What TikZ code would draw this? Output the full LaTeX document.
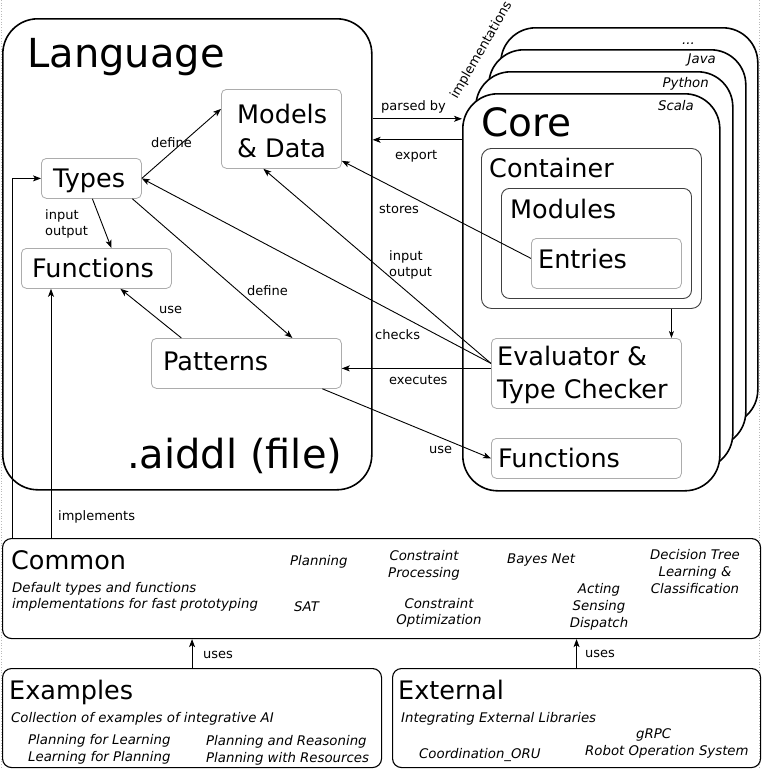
\documentclass[tikz,border=0pt]{standalone}
\usepackage{fontspec}
\setmainfont{DejaVu Sans}
\usetikzlibrary{arrows.meta,calc}
\begin{document}
\begin{tikzpicture}[x=1pt,y=-1pt,
  box/.style={draw, rectangle, anchor=north west, inner sep=0pt},
  big/.style={box, line width=1.6pt, rounded corners=35pt, fill=white},
  mid/.style={box, line width=1.1pt, rounded corners=9pt},
  inbox/.style={box, draw=gray!65, line width=0.8pt, rounded corners=5pt},
  dkbox/.style={box, draw=black!75, line width=0.9pt, rounded corners=10pt},
  txt/.style={inner sep=0pt, anchor=base west},
  hugetxt/.style={txt, font=\fontsize{40}{40}\selectfont},
  headtxt/.style={txt, font=\fontsize{25.5}{33}\selectfont},
  lbl/.style={txt, font=\fontsize{13}{16}\selectfont},
  ittxt/.style={txt, font=\fontsize{13.3}{16}\selectfont\itshape},
  itc/.style={ittxt, anchor=base},
  arr/.style={-{Stealth[length=8pt,width=6pt,inset=2pt]}, line width=0.9pt},
]
\useasboundingbox (0,0) rectangle (762,769);
% faint page border
\draw[gray!55, dotted, line width=0.7pt] (1,0) -- (1,769);
\draw[gray!55, dotted, line width=0.7pt] (759,0) -- (759,769);

% ---------- Language ----------
\node[big, minimum width=369pt, minimum height=471pt] (lang) at (2,18) {};
\node[hugetxt] (langt) at (27,67) {Language};
\node[hugetxt] (aiddl) at (127,468) {.aiddl (file)};
\node[inbox, minimum width=120pt, minimum height=79pt] (models) at (221,89) {};
\node[headtxt] (md1) at (237,123) {Models};
\node[headtxt] (md2) at (237,157) {\& Data};
\node[inbox, minimum width=100pt, minimum height=40pt] (types) at (41,158) {};
\node[headtxt] (typest) at (53,187) {Types};
\node[inbox, minimum width=150pt, minimum height=40pt] (funcL) at (21,248) {};
\node[headtxt] (funcLt) at (32,277) {Functions};
\node[inbox, minimum width=190pt, minimum height=50pt] (patterns) at (151,338) {};
\node[headtxt] (patt) at (163,370) {Patterns};

% ---------- Core stack ----------
\node[big, minimum width=257pt, minimum height=397pt] (core4) at (500,27) {};
\node[big, minimum width=257pt, minimum height=397pt] (core3) at (488,49) {};
\node[big, minimum width=257pt, minimum height=397pt] (core2) at (475,71) {};
\node[big, minimum width=257pt, minimum height=397pt] (core) at (462,93) {};
\node[ittxt, anchor=base east] (vdots) at (695,44) {...};
\node[ittxt, anchor=base east] (vjava) at (716,63) {Java};
\node[ittxt, anchor=base east] (vpython) at (709,87) {Python};
\node[ittxt, anchor=base east] (vscala) at (694,110) {Scala};
\node[txt, font=\fontsize{39}{39}\selectfont] (coret) at (481,136) {Core};
\node[dkbox, minimum width=220pt, minimum height=160pt] (container) at (481,148) {};
\node[headtxt] (contt) at (489,177) {Container};
\node[dkbox, rounded corners=8pt, minimum width=190pt, minimum height=110pt] (modules) at (501,188) {};
\node[headtxt] (modt) at (510,218) {Modules};
\node[inbox, minimum width=150pt, minimum height=50pt] (entries) at (531,238) {};
\node[headtxt] (entt) at (538,268) {Entries};
\node[inbox, minimum width=190pt, minimum height=70pt] (eval) at (491,338) {};
\node[headtxt] (ev1) at (497,365) {Evaluator \&};
\node[headtxt] (ev2) at (497,398) {Type Checker};
\node[inbox, minimum width=190pt, minimum height=40pt] (funcC) at (491,438) {};
\node[headtxt] (funcCt) at (498,467) {Functions};
\node[lbl, rotate=60] (impl) at (457,100) {implementations};

% ---------- connectors in upper part ----------
\draw[arr] ([yshift=135.5pt]lang.east) coordinate (pb) -- (pb -| core.west);
\node[lbl] (lpb) at (381,110) {parsed by};
\draw[arr] ([yshift=152.5pt]core.west) coordinate (ex) -- (ex -| lang.east);
\node[lbl] (lex) at (395,159) {export};

\draw[arr] (types.east) -- ([yshift=20pt]models.west);
\node[lbl] (ldef1) at (151,147) {define};
\draw[arr] ([xshift=1pt]types.south) -- ([xshift=15pt]funcL.north);
\node[lbl] (lio1) at (45,219) {input};
\node[lbl] (lio2) at (45,235) {output};
\draw[arr] ([xshift=41pt]types.south) -- ([xshift=46pt]patterns.north);
\node[lbl] (ldef2) at (247,295) {define};
\draw[arr] ([xshift=-65pt]patterns.north) -- ([xshift=24pt]funcL.south);
\node[lbl] (luse1) at (159,313) {use};

\draw[arr] ([yshift=5pt]entries.west) -- ([yshift=8pt]models.south east);
\node[lbl] (lst) at (379,213) {stores};
\draw[arr] ([yshift=10pt]eval.west) -- ([xshift=-18pt]models.south);
\node[lbl] (lio3) at (389,260) {input};
\node[lbl] (lio4) at (389,276) {output};
\draw[arr] ([yshift=10pt]eval.west) -- (types.east);
\node[lbl] (lch) at (375,339) {checks};
\draw[arr] ([yshift=5pt]eval.west) coordinate (exe) -- (exe -| patterns.east);
\node[lbl] (lexe) at (389,384) {executes};
\draw[arr] ([xshift=76pt]patterns.south) -- (funcC.west);
\node[lbl] (luse2) at (429,453) {use};
\draw[-{Stealth[length=7pt,width=5pt,inset=2pt]}, line width=0.7pt] ([xshift=80pt]container.south) coordinate (cs) -- (cs |- eval.north);

% ---------- Common ----------
\node[mid, minimum width=758pt, minimum height=100pt] (common) at (2,538) {};
\node[headtxt] (comt) at (11,569) {Common};
\node[ittxt] (c1) at (12,592) {Default types and functions};
\node[ittxt] (c2) at (12,608) {implementations for fast prototyping};
\node[ittxt] (cpl) at (290,565) {Planning};
\node[itc] (ccp1) at (424,560) {Constraint};
\node[itc] (ccp2) at (424,577) {Processing};
\node[ittxt] (cbn) at (507,563) {Bayes Net};
\node[itc] (cdt1) at (695,559) {Decision Tree};
\node[itc] (cdt2) at (695,576) {Learning \&};
\node[itc] (cdt3) at (695,593) {Classification};
\node[ittxt] (csat) at (294,611) {SAT};
\node[itc] (cco1) at (439,608) {Constraint};
\node[itc] (cco2) at (439,624) {Optimization};
\node[itc] (cas1) at (599,593) {Acting};
\node[itc] (cas2) at (599,610) {Sensing};
\node[itc] (cas3) at (599,627) {Dispatch};

\draw[arr] ([xshift=10pt]common.north west) |- (types.west);
\draw[arr] ([xshift=49pt]common.north west) coordinate (im) -- (im |- funcL.south);
\node[lbl] (limp) at (58,520) {implements};

% ---------- Examples / External ----------
\node[mid, minimum width=379pt, minimum height=99pt] (examples) at (2,668) {};
\node[headtxt] (exat) at (9,699) {Examples};
\node[ittxt] (e1) at (11,722) {Collection of examples of integrative AI};
\node[ittxt] (e2) at (28,744) {Planning for Learning};
\node[ittxt] (e3) at (28,761) {Learning for Planning};
\node[ittxt] (e4) at (206,745) {Planning and Reasoning};
\node[ittxt] (e5) at (206,762) {Planning with Resources};

\node[mid, minimum width=368pt, minimum height=99pt] (external) at (392,668) {};
\node[headtxt] (extt) at (398,699) {External};
\node[ittxt] (x1) at (401,722) {Integrating External Libraries};
\node[ittxt] (x2) at (636,738) {gRPC};
\node[ittxt] (x3) at (585,755) {Robot Operation System};
\node[ittxt] (x4) at (419,758) {Coordination\_ORU};

\draw[arr] (examples.north) -- (examples.north |- common.south);
\node[lbl] (lu1) at (203,658) {uses};
\draw[arr] (external.north) -- (external.north |- common.south);
\node[lbl] (lu2) at (585,657) {uses};
\end{tikzpicture}
\end{document}
